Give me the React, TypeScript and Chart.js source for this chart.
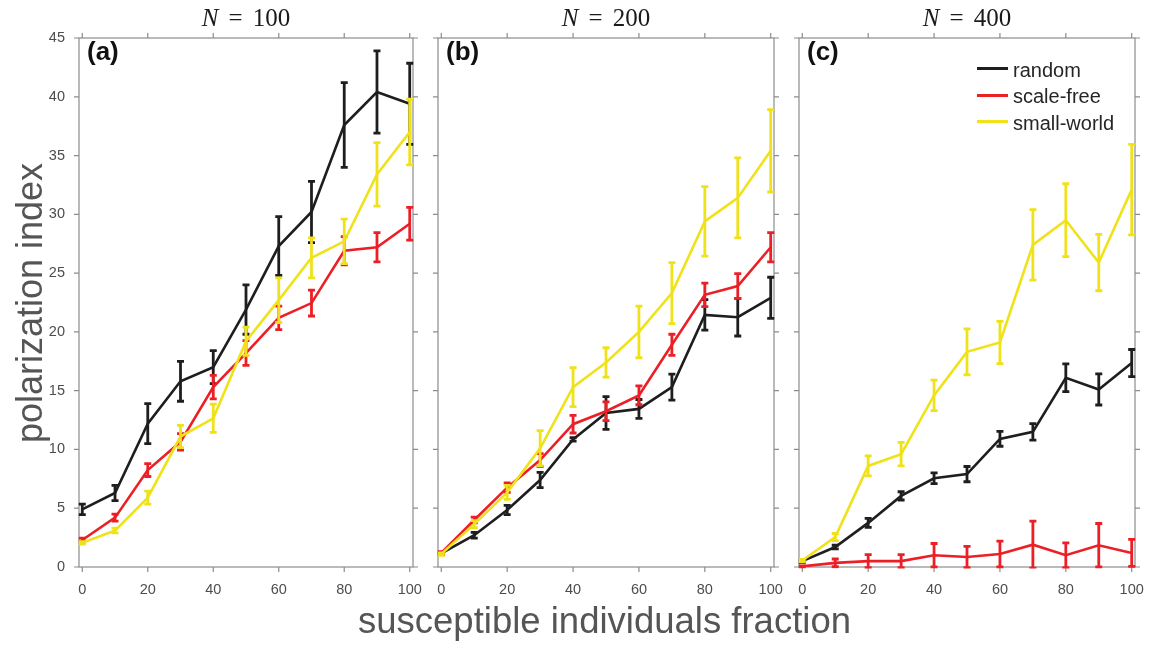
import React, { useEffect, useRef } from 'react';
import { Chart, registerables } from 'chart.js';

Chart.register(...registerables);

// ---------- data ----------
const xValues = [0, 10, 20, 30, 40, 50, 60, 70, 80, 90, 100];
const xTicks = [0, 20, 40, 60, 80, 100];
const yTicks = [0, 5, 10, 15, 20, 25, 30, 35, 40, 45];
const seriesNames = ['random', 'scale-free', 'small-world'];
const seriesColors = ['#1e1e1e', '#ec1f26', '#efe21b'];
const panelLetters = ['(a)', '(b)', '(c)'];
const panelSizes = ['100', '200', '400'];

// panel (a) N = 100
const aRandom = [4.9, 6.3, 12.2, 15.8, 17.0, 21.9, 27.3, 30.2, 37.6, 40.4, 39.4];
const aRandomErr = [0.45, 0.65, 1.7, 1.7, 1.4, 2.1, 2.5, 2.6, 3.6, 3.5, 3.45];
const aScaleFree = [2.3, 4.2, 8.25, 10.65, 15.3, 18.2, 21.2, 22.45, 26.9, 27.2, 29.2];
const aScaleFreeErr = [0.15, 0.3, 0.55, 0.7, 1.0, 1.05, 1.0, 1.1, 1.2, 1.25, 1.4];
const aSmallWorld = [2.05, 3.1, 5.9, 11.1, 12.65, 19.2, 22.7, 26.3, 27.7, 33.4, 37.0];
const aSmallWorldErr = [0.1, 0.2, 0.55, 0.95, 1.2, 1.2, 1.9, 1.7, 1.9, 2.7, 2.8];

// panel (b) N = 200
const bRandom = [1.15, 2.7, 4.85, 7.4, 10.85, 13.1, 13.45, 15.3, 21.45, 21.25, 22.9];
const bRandomErr = [0.1, 0.25, 0.4, 0.65, 0.15, 1.4, 0.8, 1.1, 1.3, 1.6, 1.75];
const bScaleFree = [1.2, 4.0, 6.75, 9.1, 12.15, 13.25, 14.6, 18.9, 23.15, 23.9, 27.2];
const bScaleFreeErr = [0.1, 0.25, 0.4, 0.55, 0.75, 0.8, 0.8, 0.9, 1.0, 1.05, 1.25];
const bSmallWorld = [1.1, 3.65, 6.35, 10.1, 15.3, 17.4, 20.0, 23.3, 29.4, 31.4, 35.4];
const bSmallWorldErr = [0.1, 0.3, 0.6, 1.5, 1.65, 1.25, 2.2, 2.6, 2.95, 3.4, 3.5];

// panel (c) N = 400
const cRandom = [0.5, 1.7, 3.75, 6.05, 7.55, 7.9, 10.9, 11.5, 16.1, 15.1, 17.35];
const cRandomErr = [0.1, 0.15, 0.38, 0.35, 0.45, 0.65, 0.63, 0.7, 1.18, 1.32, 1.15];
const cScaleFree = [0.05, 0.35, 0.5, 0.5, 1.0, 0.85, 1.1, 1.9, 1.0, 1.85, 1.2];
const cScaleFreeErr = [0.05, 0.33, 0.55, 0.55, 1.0, 0.9, 1.1, 2.0, 1.05, 1.85, 1.15];
const cSmallWorld = [0.55, 2.55, 8.6, 9.6, 14.6, 18.3, 19.1, 27.4, 29.5, 25.9, 32.1];
const cSmallWorldErr = [0.1, 0.3, 0.85, 1.0, 1.3, 1.95, 1.8, 3.0, 3.1, 2.4, 3.85];

const xAxisTitle = 'susceptible individuals fraction';
const yAxisTitle = 'polarization index';

// ---------- layout ----------
const SANS = '"Liberation Sans", Arial, Helvetica, sans-serif';
const SERIF = '"Liberation Serif", "Times New Roman", serif';
const BOX_TOP = 38;
const BOX_H = 529;
const PAD_L = 75;
const PAD_R = 28;
const PAD_T = 28;
const X_AXIS_H = 35;

const panels = [
  { values: [aRandom, aScaleFree, aSmallWorld], errors: [aRandomErr, aScaleFreeErr, aSmallWorldErr], left: 79, width: 334, showY: true },
  { values: [bRandom, bScaleFree, bSmallWorld], errors: [bRandomErr, bScaleFreeErr, bSmallWorldErr], left: 438, width: 336, showY: false },
  { values: [cRandom, cScaleFree, cSmallWorld], errors: [cRandomErr, cScaleFreeErr, cSmallWorldErr], left: 799, width: 336, showY: false },
];

const framePlugin = {
  id: 'frame',
  beforeDatasetsDraw(chart: any) {
    const { ctx, chartArea: a, scales } = chart;
    ctx.save();
    ctx.strokeStyle = '#8c8c8c';
    ctx.lineWidth = 1.2;
    ctx.strokeRect(a.left, a.top, a.right - a.left, a.bottom - a.top);
    ctx.beginPath();
    const t = 5;
    xTicks.forEach((v) => {
      const px = scales.x.getPixelForValue(v);
      ctx.moveTo(px, a.top - t);
      ctx.lineTo(px, a.top);
      ctx.moveTo(px, a.bottom);
      ctx.lineTo(px, a.bottom + t);
    });
    yTicks.forEach((v) => {
      const py = scales.y.getPixelForValue(v);
      ctx.moveTo(a.left - t, py);
      ctx.lineTo(a.left, py);
      ctx.moveTo(a.right, py);
      ctx.lineTo(a.right + t, py);
    });
    ctx.stroke();
    ctx.restore();
  },
};

const errorBarPlugin = {
  id: 'errorBars',
  afterDatasetDraw(chart: any, args: any) {
    const ds = chart.data.datasets[args.index];
    const errs: number[] = ds.errors || [];
    const { ctx, chartArea: a } = chart;
    const ys = chart.scales.y;
    ctx.save();
    ctx.beginPath();
    ctx.rect(a.left - 6, a.top - 1.5, a.right - a.left + 12, a.bottom - a.top + 3);
    ctx.clip();
    ctx.strokeStyle = ds.borderColor;
    ctx.lineWidth = 2.8;
    ctx.lineCap = 'butt';
    const cap = 3.5;
    args.meta.data.forEach((pt: any, i: number) => {
      const v = ds.data[i].y;
      const e = errs[i] || 0;
      const top = ys.getPixelForValue(v + e);
      const bot = ys.getPixelForValue(v - e);
      ctx.beginPath();
      ctx.moveTo(pt.x, top);
      ctx.lineTo(pt.x, bot);
      ctx.moveTo(pt.x - cap, top);
      ctx.lineTo(pt.x + cap, top);
      ctx.moveTo(pt.x - cap, bot);
      ctx.lineTo(pt.x + cap, bot);
      ctx.stroke();
    });
    ctx.restore();
  },
};

function Panel({ cfg }: { cfg: any }) {
  const ref = useRef<HTMLCanvasElement>(null);
  const w = PAD_L + cfg.width + PAD_R;
  const h = PAD_T + BOX_H + X_AXIS_H;
  useEffect(() => {
    const chart = new Chart(ref.current as HTMLCanvasElement, {
      type: 'line',
      data: {
        datasets: seriesNames.map((name, s) => ({
          label: name,
          data: xValues.map((x, i) => ({ x, y: cfg.values[s][i] })),
          errors: cfg.errors[s],
          borderColor: seriesColors[s],
          backgroundColor: seriesColors[s],
          borderWidth: 2.6,
          pointRadius: 0,
          tension: 0,
          order: 2 - s,
        })) as any,
      },
      options: {
        animation: false,
        responsive: false,
        maintainAspectRatio: false,
        events: [],
        layout: {
          autoPadding: false,
          padding: { left: cfg.showY ? 0 : PAD_L, right: PAD_R, top: PAD_T, bottom: 0 },
        },
        plugins: {
          legend: { display: false },
          tooltip: { enabled: false },
          title: { display: false },
        },
        scales: {
          x: {
            type: 'linear',
            min: -1,
            max: 101,
            afterBuildTicks: (s: any) => {
              s.ticks = xTicks.map((v) => ({ value: v }));
            },
            afterFit: (s: any) => {
              s.height = X_AXIS_H;
            },
            grid: { display: false, drawTicks: false, tickLength: 0 },
            border: { display: false },
            ticks: {
              padding: 14,
              color: '#4d4d4d',
              font: { family: SANS, size: 14.5 },
              maxRotation: 0,
              autoSkip: false,
            },
          },
          y: {
            type: 'linear',
            min: 0,
            max: 45,
            display: cfg.showY,
            afterBuildTicks: (s: any) => {
              s.ticks = yTicks.map((v) => ({ value: v }));
            },
            afterFit: (s: any) => {
              s.width = cfg.showY ? PAD_L : 0;
            },
            grid: { display: false, drawTicks: false, tickLength: 0 },
            border: { display: false },
            ticks: {
              padding: 14,
              color: '#4d4d4d',
              font: { family: SANS, size: 14.5 },
              autoSkip: false,
            },
          },
        },
      } as any,
      plugins: [framePlugin, errorBarPlugin],
    });
    return () => chart.destroy();
  }, []);
  return (
    <canvas
      ref={ref}
      width={w}
      height={h}
      style={{ position: 'absolute', left: cfg.left - PAD_L, top: BOX_TOP - PAD_T, width: w, height: h }}
    />
  );
}

export default function App() {
  return (
    <div style={{ position: 'absolute', left: 0, top: 0, width: 1154, height: 647, background: '#fff', overflow: 'hidden' }}>
      {panels.map((p, k) => (
        <Panel key={k} cfg={p} />
      ))}
      {panels.map((p, k) => (
        <div
          key={'t' + k}
          style={{
            position: 'absolute', left: p.left, width: p.width, top: 26 - 0.8375 * 25, textAlign: 'center',
            fontFamily: SERIF, fontSize: 25, lineHeight: '25px', color: '#1a1a1a', whiteSpace: 'nowrap',
          }}
        >
          <i>N</i>
          <span style={{ margin: '0 0.4em' }}>=</span>
          {panelSizes[k]}
        </div>
      ))}
      {panels.map((p, k) => (
        <div
          key={'l' + k}
          style={{
            position: 'absolute', left: p.left + 8, top: 60 - 0.8465 * 26,
            fontFamily: SANS, fontSize: 26, lineHeight: '26px', fontWeight: 'bold', color: '#111',
          }}
        >
          {panelLetters[k]}
        </div>
      ))}
      {seriesNames.map((name, s) => (
        <React.Fragment key={'lg' + s}>
          <div style={{ position: 'absolute', left: 977, top: Math.round(67 + s * 26.7), width: 31, height: 3, background: seriesColors[s] }} />
          <div
            style={{
              position: 'absolute', left: 1013, top: 76.7 + s * 26.7 - 0.8465 * 20,
              fontFamily: SANS, fontSize: 20, lineHeight: '20px', color: '#262626', whiteSpace: 'nowrap',
            }}
          >
            {name}
          </div>
        </React.Fragment>
      ))}
      <div
        style={{
          position: 'absolute', left: 0, width: 1154, top: 634 - 0.8465 * 36.5, textAlign: 'center',
          paddingLeft: 55, boxSizing: 'border-box',
          fontFamily: SANS, fontSize: 36.5, lineHeight: '36.5px', color: '#555', whiteSpace: 'nowrap',
        }}
      >
        {xAxisTitle}
      </div>
      <div
        style={{
          position: 'absolute', left: 30 - 200, top: 303 - 18, width: 400, height: 36, textAlign: 'center',
          transform: 'rotate(-90deg)', transformOrigin: '50% 50%',
          fontFamily: SANS, fontSize: 36, lineHeight: '36px', color: '#555', whiteSpace: 'nowrap',
        }}
      >
        {yAxisTitle}
      </div>
    </div>
  );
}
